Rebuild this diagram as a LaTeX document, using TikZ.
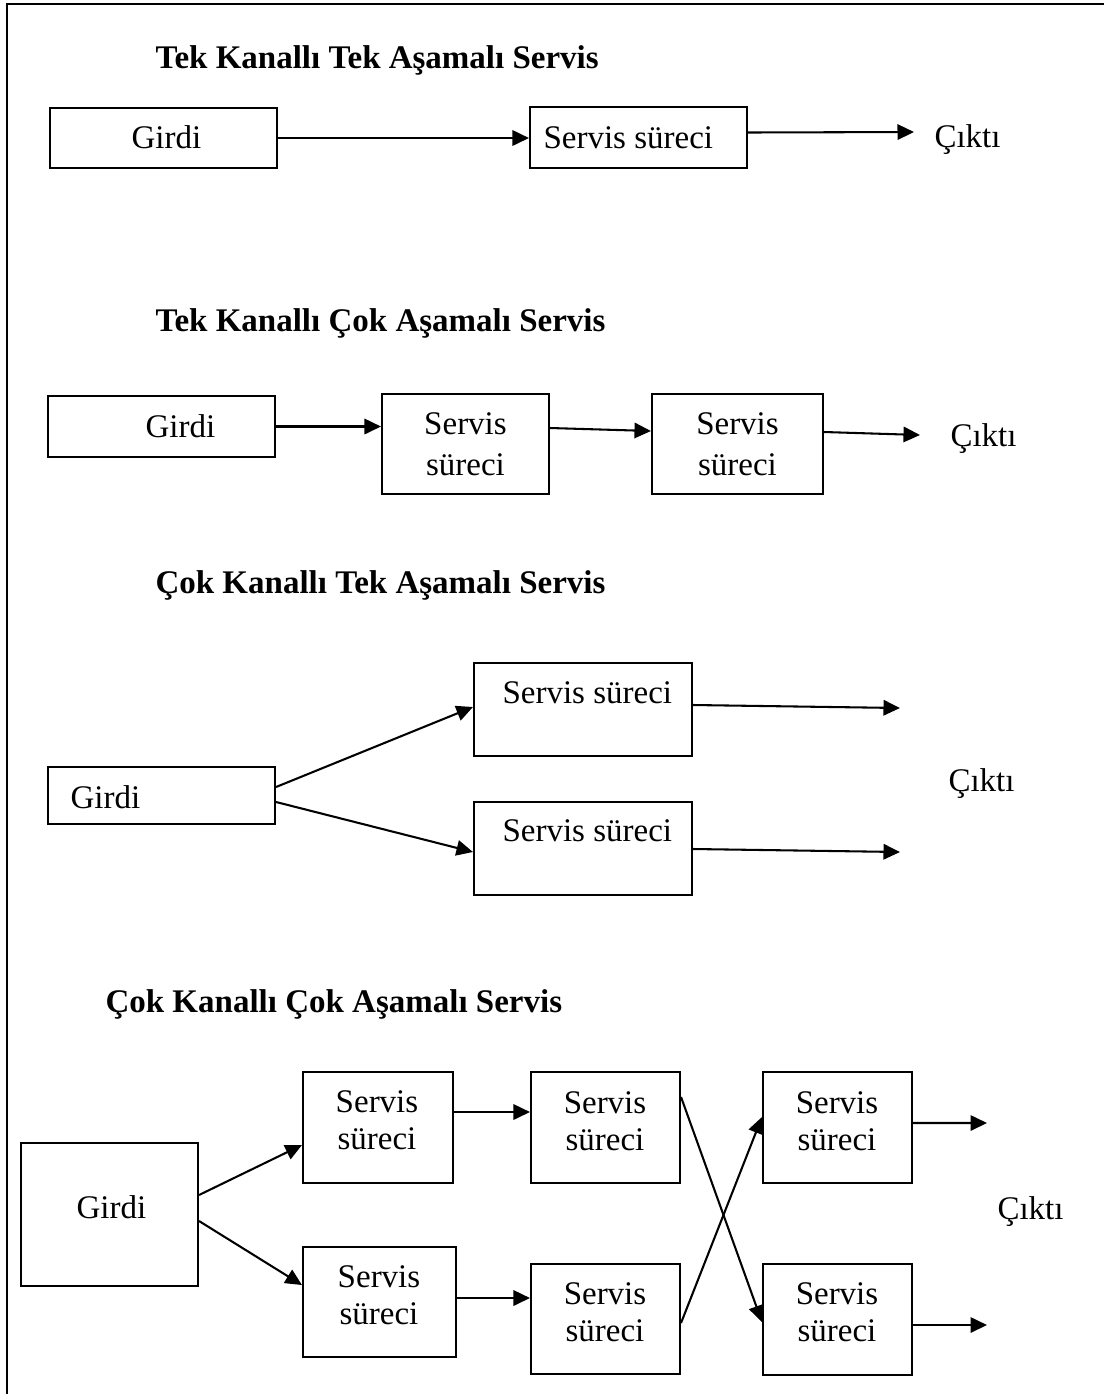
\documentclass[tikz,border=0pt]{standalone}
\usepackage{fontspec}
\setmainfont{Liberation Serif}
\usetikzlibrary{arrows.meta,fit,calc}

\tikzset{
  box/.style={draw, line width=0.75pt, inner sep=0pt},
  lbl/.style={inner sep=0pt, align=center, font=\fontsize{12pt}{13.5pt}\selectfont},
  lblw/.style={inner sep=0pt, align=center, font=\fontsize{12pt}{15pt}\selectfont},
  txt/.style={inner sep=0pt, anchor=base west, font=\fontsize{12pt}{13.5pt}\selectfont},
  ttl/.style={inner sep=0pt, anchor=base west, font=\fontsize{12pt}{13.5pt}\selectfont\bfseries},
  arr/.style={line width=0.75pt, -{Triangle[length=6pt,width=5.6pt]}},
  frame/.style={line width=0.9pt},
}

\begin{document}
\begin{tikzpicture}[x=0.3636pt, y=-0.3636pt]
  \useasboundingbox (0,0) rectangle (1104,1394);

  % outer frame (open towards right and bottom)
  \draw[frame] (7,1394) -- (7,4) -- (1104,4);

  % ---------- Tek Kanallı Tek Aşamalı Servis ----------
  \node[ttl] (h1) at (155,68) {Tek Kanallı Tek Aşamalı Servis};
  \node[box, fit={(50,108)(277,168)}] (g1) {};
  \node[txt] (g1t) at (131,148) {Girdi};
  \node[box, fit={(530,107)(747,168)}] (s1) {};
  \node[txt] (s1t) at (543,148) {Servis süreci};
  \coordinate (o1) at (914,132);
  \node[txt] (c1) at (934,147) {Çıktı};
  \draw[arr] (g1.east) -- (g1.east -| s1.west);
  \draw[arr] ($(s1.east)+(0,-5)$) -- (o1);

  % ---------- Tek Kanallı Çok Aşamalı Servis ----------
  \node[ttl] (h2) at (155,331) {Tek Kanallı Çok Aşamalı Servis};
  \node[box, fit={(48,396)(275,457)}] (g2) {};
  \node[txt] (g2t) at (145,437) {Girdi};
  \node[box, fit={(382,394)(549,494)}] (s21) {};
  \node[lblw] (s21t) at (s21.center) {Servis\\süreci};
  \node[box, fit={(652,394)(823,494)}] (s22) {};
  \node[lblw] (s22t) at (s22.center) {Servis\\süreci};
  \coordinate (o2) at (920,435);
  \node[txt] (c2) at (950,446) {Çıktı};
  \draw[arr] (g2.east) -- (g2.east -| s21.west);
  \draw[arr] ($(s21.east)+(0,-16)$) -- ($(s22.west)+(0,-13)$);
  \draw[arr] ($(s22.east)+(0,-12)$) -- (o2);

  % ---------- Çok Kanallı Tek Aşamalı Servis ----------
  \node[ttl] (h3) at (155,593) {Çok Kanallı Tek Aşamalı Servis};
  \node[box, fit={(48,767)(275,824)}] (g3) {};
  \node[txt] (g3t) at (70,808) {Girdi};
  \node[box, fit={(474,663)(692,756)}] (s31) {};
  \node[txt] (s31t) at (502,703) {Servis süreci};
  \node[box, fit={(474,802)(692,895)}] (s32) {};
  \node[txt] (s32t) at (502,841) {Servis süreci};
  \coordinate (o31) at (900,708);
  \coordinate (o32) at (900,852);
  \node[txt] (c3) at (948,791) {Çıktı};
  \draw[arr] ($(g3.east)+(0,-8.5)$) -- ($(s31.west)+(0,-2.5)$);
  \draw[arr] ($(g3.east)+(0,6.5)$) -- ($(s32.west)+(0,3.5)$);
  \draw[arr] ($(s31.east)+(0,-4.5)$) -- (o31);
  \draw[arr] ($(s32.east)+(0,0.5)$) -- (o32);

  % ---------- Çok Kanallı Çok Aşamalı Servis ----------
  \node[ttl] (h4) at (105,1012) {Çok Kanallı Çok Aşamalı Servis};
  \node[box, fit={(21,1143)(198,1286)}] (g4) {};
  \node[txt] (g4t) at (76,1218) {Girdi};
  \node[box, fit={(303,1072)(453,1183)}] (a) {};
  \node[lbl] (at) at (377,1120) {Servis\\süreci};
  \node[box, fit={(303,1247)(456,1357)}] (b) {};
  \node[lbl] (bt) at (379,1295) {Servis\\süreci};
  \node[box, fit={(531,1072)(680,1183)}] (c) {};
  \node[lbl] (ct) at (605,1121) {Servis\\süreci};
  \node[box, fit={(531,1264)(680,1374)}] (d) {};
  \node[lbl] (dt) at (605,1312) {Servis\\süreci};
  \node[box, fit={(763,1072)(912,1183)}] (e) {};
  \node[lbl] (et) at (837,1121) {Servis\\süreci};
  \node[box, fit={(763,1264)(912,1375)}] (f) {};
  \node[lbl] (ft) at (837,1312) {Servis\\süreci};
  \coordinate (o41) at (987,1123);
  \coordinate (o42) at (987,1325);
  \node[txt] (c4) at (997,1219) {Çıktı};
  \draw[arr] ($(g4.east)+(0,-19.5)$) -- ($(a.west)+(0,17.5)$);
  \draw[arr] ($(g4.east)+(0,6.5)$) -- ($(b.west)+(0,-17)$);
  \draw[arr] ($(a.east)+(0,-15.5)$) -- ($(c.west)+(0,-15.5)$);
  \draw[arr] ($(b.east)+(0,-4)$) -- ($(d.west)+(0,-21)$);
  \draw[arr] ($(c.east)+(0,-30.5)$) -- ($(f.west)+(0,2.5)$);
  \draw[arr] ($(d.east)+(0,4)$) -- ($(e.west)+(0,-10.5)$);
  \draw[arr] ($(e.east)+(0,-4.5)$) -- (o41);
  \draw[arr] ($(f.east)+(0,5.5)$) -- (o42);
\end{tikzpicture}
\end{document}
